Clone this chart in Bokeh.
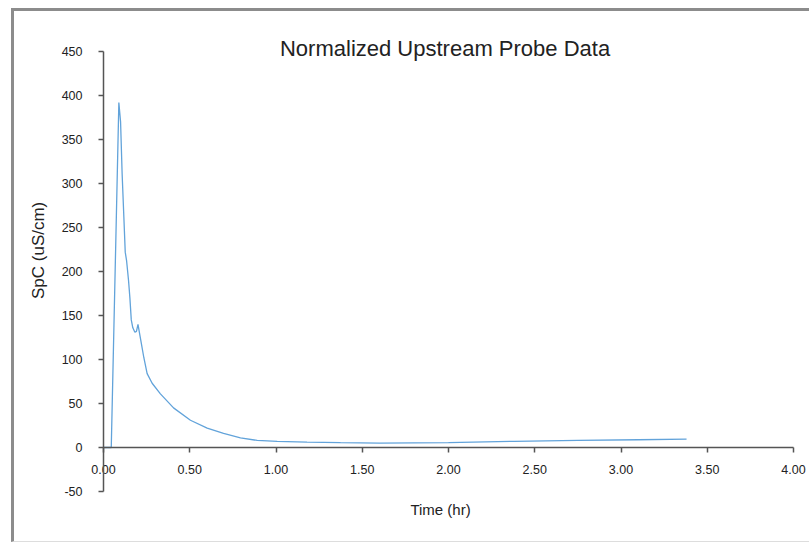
from bokeh.plotting import figure
from bokeh.models import Range1d, FixedTicker, PrintfTickFormatter, Label, LinearAxis
from bokeh.embed import file_html
from bokeh.resources import INLINE

# Normalized specific conductance measured by the upstream probe
time_hr = [0.0, 0.045, 0.089, 0.099, 0.108, 0.118, 0.126, 0.134, 0.145, 0.153,
           0.161, 0.170, 0.182, 0.191, 0.200, 0.207, 0.216, 0.234, 0.253, 0.282,
           0.330, 0.406, 0.504, 0.601, 0.696, 0.794, 0.891, 1.007, 1.18, 1.374,
           1.60, 2.00, 2.38, 2.75, 3.10, 3.38]
spc = [0.0, 0.0, 392.0, 370.0, 311.0, 262.0, 222.0, 212.0, 190.0, 170.0,
       145.0, 136.0, 131.0, 132.0, 140.0, 132.0, 122.0, 102.0, 84.0, 73.0,
       61.0, 45.0, 31.0, 22.0, 16.0, 11.0, 8.0, 7.0, 6.0, 5.5,
       5.0, 5.5, 7.0, 8.0, 8.8, 9.5]

x_ticks = [0.0, 0.5, 1.0, 1.5, 2.0, 2.5, 3.0, 3.5, 4.0]
y_ticks = [-50, 0, 50, 100, 150, 200, 250, 300, 350, 400, 450]

FONT = "Liberation Sans"
AXIS_COLOR = "#555555"
TEXT_COLOR = "#222222"

# The frame fills the whole canvas; axes sit at fixed data positions inside it
p = figure(
    width=798, height=534,
    x_range=Range1d(-0.51594, 4.11014), y_range=Range1d(-111.3636, 495.4545),
    x_axis_location=None, y_axis_location=None,
    output_backend="svg", toolbar_location=None,
    min_border=0,
    background_fill_color="white", border_fill_color="white",
    outline_line_color=None,
)
p.margin = (8, 0, 0, 11)
p.styles = {
    "border-left": "3px solid #8c8c8c",
    "border-top": "3px solid #8c8c8c",
    "border-bottom": "1px solid #dddddd",
}

p.line(time_hr, spc, line_color="#62a3da", line_width=1.3)

p.grid.visible = False

xa = LinearAxis(fixed_location=0, bounds=(0, 4),
                ticker=FixedTicker(ticks=x_ticks),
                formatter=PrintfTickFormatter(format="%.2f"),
                major_label_standoff=12)
ya = LinearAxis(fixed_location=0, bounds=(-50, 450),
                ticker=FixedTicker(ticks=y_ticks),
                formatter=PrintfTickFormatter(format="%d"),
                major_label_standoff=16)

for ax in (xa, ya):
    ax.axis_line_color = AXIS_COLOR
    ax.axis_line_width = 1.5
    ax.major_tick_line_color = AXIS_COLOR
    ax.major_tick_line_width = 1.5
    ax.major_tick_out = 5
    ax.major_tick_in = 0
    ax.minor_tick_line_color = None
    ax.major_label_text_font = FONT
    ax.major_label_text_font_size = "12.5px"
    ax.major_label_text_color = TEXT_COLOR

p.add_layout(xa, "below")
p.add_layout(ya, "left")

label_style = dict(text_font=FONT, text_color=TEXT_COLOR,
                   text_align="center", text_baseline="middle")

p.add_layout(Label(x=1.98, y=453.5, text="Normalized Upstream Probe Data",
                   text_font_size="22px", **label_style))
p.add_layout(Label(x=1.954, y=-70.5, text="Time (hr)",
                   text_font_size="15px", **label_style))
p.add_layout(Label(x=-0.377, y=224, text="SpC (uS/cm)", angle=90,
                   angle_units="deg", text_font_size="17px", **label_style))

open("out.html", "w").write(file_html(p, INLINE))
